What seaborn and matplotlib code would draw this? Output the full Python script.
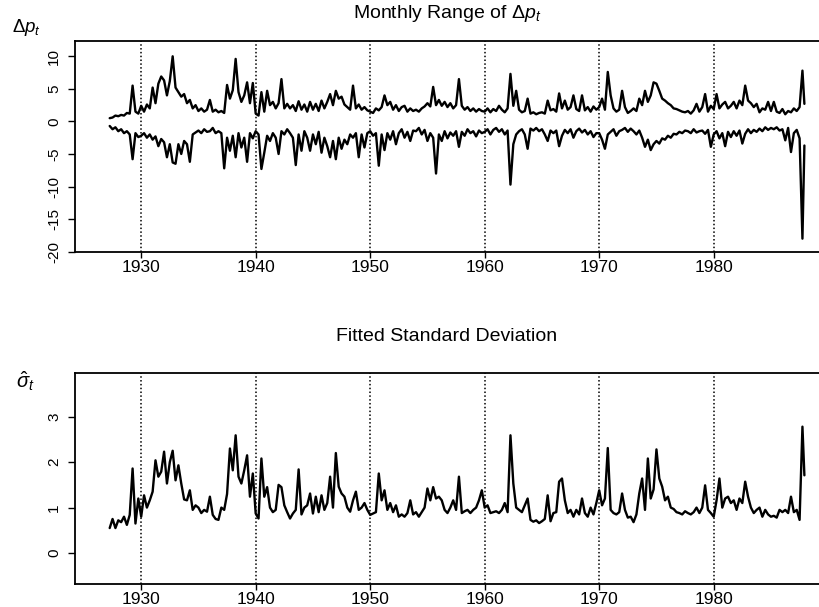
import numpy as np
import pandas as pd
import matplotlib
matplotlib.use("Agg")
import matplotlib.pyplot as plt
import seaborn as sns

# quarterly readings (May 1927 .. Dec 1987)
upper_range = [
    0.5, 0.6, 0.9,                 # 1927
    0.8, 1.0, 0.9, 1.3,            # 1928
    1.2, 5.5, 1.5, 1.2,            # 1929
    2.4, 1.5, 2.6, 2.0,            # 1930
    5.2, 2.8, 5.8, 6.9,
    6.3, 4.0, 6.2, 10.0,
    5.2, 4.5, 3.8, 4.2,
    2.8, 3.3, 2.0, 2.5,
    1.6, 2.0, 1.5, 1.8,            # 1935
    3.3, 1.5, 1.8, 1.4,
    1.6, 1.3, 5.6, 3.5,
    4.8, 9.6, 4.5, 3.0,
    4.0, 6.0, 2.8, 5.9,
    1.2, 0.9, 4.5, 1.5,            # 1940
    4.7, 2.5, 3.0, 2.0,
    2.8, 6.5, 2.0, 2.7,
    2.0, 2.5, 1.6, 3.1,
    1.8, 2.6, 1.5, 3.0,
    1.8, 2.7, 1.6, 3.2,            # 1945
    2.0, 3.0, 4.2, 2.5,
    4.7, 3.5, 3.8, 2.6,
    2.2, 1.8, 5.5, 2.0,
    2.6, 1.8, 2.2, 1.7,
    1.5, 1.3, 2.0, 1.7,            # 1950
    2.2, 4.0, 2.5, 3.0,
    1.8, 2.5, 1.6, 2.2,
    2.4, 1.5, 2.0, 1.6,
    1.8, 1.5, 2.0, 2.3,
    2.8, 2.3, 5.3, 2.5,            # 1955
    3.3, 2.4, 3.0, 2.2,
    2.8, 2.0, 2.5, 6.5,
    2.4, 1.8, 2.2, 1.6,
    2.0, 1.5, 1.9, 1.6,
    1.5, 2.0, 1.4, 1.9,            # 1960
    1.6, 2.4, 1.8, 1.4,
    2.0, 7.3, 2.4, 4.7,
    1.8, 1.4, 1.6, 3.5,
    1.2, 1.4, 1.1, 1.3,
    1.4, 1.2, 3.2, 1.7,            # 1965
    1.9, 1.5, 4.3, 2.0,
    3.2, 1.8, 2.2, 4.0,
    1.9, 1.6, 4.0, 1.7,
    2.2, 1.5, 2.3, 1.8,
    2.2, 3.5, 1.8, 7.6,            # 1970
    4.0, 2.0, 1.5, 1.8,
    4.7, 2.2, 1.3, 1.6,
    2.0, 1.6, 3.5, 2.5,
    4.7, 3.0, 4.0, 6.0,
    5.8, 4.7, 3.5, 3.2,            # 1975
    2.8, 2.5, 2.0, 1.9,
    1.7, 1.5, 1.4, 1.6,
    1.2, 1.7, 2.7, 1.5,
    2.2, 4.2, 1.5, 2.4,
    1.9, 4.2, 2.0, 2.6,            # 1980
    3.0, 2.0, 2.4, 3.0,
    2.0, 3.2, 2.5, 5.5,
    3.2, 2.8, 2.2, 2.7,
    1.4, 2.0, 1.8, 3.0,
    1.6, 3.0, 1.5, 1.3,            # 1985
    1.9, 1.1, 1.6, 1.4,
    2.0, 1.6, 2.2, 7.8, 2.7,       # 1987
]

lower_range = [
    -0.7, -1.2, -0.9,
    -1.5, -1.2, -1.8, -1.5,
    -2.0, -5.8, -1.8, -2.4,
    -2.2, -1.8, -2.5, -2.0,        # 1930
    -2.8, -2.3, -3.8, -2.7,
    -3.2, -5.5, -3.5, -6.3,
    -6.5, -3.5, -5.0, -3.0,
    -3.5, -6.2, -2.0, -1.7,
    -1.4, -1.8, -1.2, -1.6,        # 1935
    -1.5, -1.0, -1.8, -1.5,
    -1.8, -7.2, -2.5, -4.5,
    -2.2, -5.5, -1.8, -4.0,
    -2.5, -6.2, -1.8, -2.6,
    -1.5, -2.0, -7.3, -4.8,        # 1940
    -2.2, -3.0, -1.8, -2.5,
    -5.0, -1.5, -2.0, -1.2,
    -1.8, -2.5, -6.7, -2.0,
    -4.5, -1.5, -2.5, -4.5,
    -2.0, -3.5, -1.6, -4.8,        # 1945
    -2.5, -3.8, -5.5, -3.0,
    -5.8, -2.5, -4.2, -2.8,
    -3.5, -2.0, -2.5, -1.8,
    -5.5, -2.0, -4.0, -1.8,
    -1.5, -2.2, -1.8, -6.8,        # 1950
    -2.0, -4.4, -1.8, -2.8,
    -1.5, -3.5, -1.8, -1.2,
    -2.5, -1.6, -3.0, -1.4,
    -1.5, -1.0, -2.0, -1.3,
    -3.0, -1.8, -2.5, -8.0,        # 1955
    -2.0, -3.0, -1.5, -2.6,
    -1.7, -2.2, -1.5, -3.9,
    -1.6, -2.2, -1.2, -1.8,
    -1.5, -2.3, -1.4, -1.8,
    -1.6, -1.2, -2.0, -1.3,        # 1960
    -1.0, -1.6, -1.2, -2.0,
    -1.4, -9.7, -3.5, -2.0,
    -1.5, -1.2, -2.0, -4.2,
    -1.1, -1.4, -1.0, -1.5,
    -1.2, -2.0, -3.0, -1.4,        # 1965
    -1.8, -1.4, -3.8, -2.2,
    -1.3, -1.8, -1.2, -2.5,
    -1.5, -1.1, -1.7, -1.3,
    -2.0, -1.5, -2.4, -1.8,
    -1.8, -2.8, -4.2, -2.0,        # 1970
    -1.6, -1.2, -2.2, -1.5,
    -1.3, -1.0, -1.6, -1.1,
    -1.5, -2.0, -1.4, -2.5,
    -3.9, -2.8, -4.4, -3.5,
    -3.0, -3.4, -2.6, -2.8,        # 1975
    -2.2, -2.5, -1.9, -2.0,
    -1.6, -1.8, -1.4, -1.5,
    -1.8, -1.2, -1.7, -1.5,
    -1.4, -1.9, -1.3, -3.9,
    -2.0, -1.5, -2.6, -1.8,        # 1980
    -3.8, -1.6, -2.4, -1.5,
    -2.2, -1.4, -3.4, -1.9,
    -1.2, -1.8, -1.3, -1.6,
    -1.1, -1.5, -0.9, -1.3,
    -1.0, -1.2, -0.9, -1.4,        # 1985
    -1.2, -2.9, -1.0, -4.7,
    -1.8, -1.3, -2.6, -18.0, -3.7,
]

fitted_sd = [
    0.55, 0.75, 0.55,
    0.72, 0.68, 0.80, 0.62,
    0.84, 1.86, 0.65, 1.20,
    0.80, 1.27, 1.00, 1.16,        # 1930
    1.35, 2.04, 1.68, 1.79,
    2.23, 1.53, 2.00, 2.25,
    1.60, 1.93, 1.53, 1.18,
    1.16, 1.38, 0.95, 1.05,
    1.00, 0.88, 0.95, 0.91,        # 1935
    1.24, 0.84, 0.75, 0.73,
    1.00, 0.95, 1.30, 2.30,
    1.82, 2.59, 1.68, 1.53,
    1.82, 2.15, 1.24, 1.75,
    0.87, 0.76, 2.08, 1.24,        # 1940
    1.45, 1.00, 0.90, 0.95,
    1.50, 1.45, 1.05, 0.90,
    0.76, 0.87, 0.95, 1.84,
    0.85, 1.00, 1.05, 1.31,
    0.87, 1.24, 0.90, 1.27,        # 1945
    0.95, 1.10, 1.68, 1.00,
    2.20, 1.46, 1.31, 1.24,
    1.00, 0.91, 1.16, 1.35,
    0.95, 1.00, 1.10, 0.95,
    0.84, 0.87, 0.90, 1.75,        # 1950
    1.16, 1.38, 0.95, 1.10,
    0.90, 1.05, 0.80, 0.85,
    0.80, 0.88, 1.16, 0.85,
    0.90, 0.80, 0.90, 1.00,
    1.42, 1.16, 1.45, 1.20,        # 1955
    1.24, 1.16, 0.95, 0.88,
    1.00, 1.16, 0.95, 1.68,
    0.88, 0.92, 0.95, 0.88,
    0.95, 1.00, 1.16, 1.38,
    1.00, 1.05, 0.88, 0.90,        # 1960
    0.92, 0.88, 0.95, 1.10,
    0.90, 2.59, 1.53, 1.00,
    0.95, 0.90, 1.05, 1.20,
    0.73, 0.69, 0.72, 0.66,
    0.70, 0.75, 1.27, 0.70,        # 1965
    0.88, 0.90, 1.57, 1.64,
    1.16, 0.88, 0.95, 0.80,
    0.95, 0.85, 1.20, 0.88,
    0.80, 1.00, 0.85, 1.10,
    1.38, 1.05, 1.20, 2.31,        # 1970
    0.95, 0.88, 0.85, 0.90,
    1.31, 0.95, 0.78, 0.80,
    0.68, 0.85, 1.31, 1.64,
    0.95, 2.08, 1.20, 1.40,
    2.28, 1.64, 1.46, 1.16,        # 1975
    1.24, 1.00, 0.97, 0.90,
    0.88, 0.85, 0.92, 0.88,
    0.85, 0.90, 1.00, 0.88,
    1.00, 1.49, 0.95, 0.88,
    0.80, 1.16, 1.64, 1.00,        # 1980
    1.20, 1.24, 1.10, 1.16,
    0.95, 1.20, 1.10, 1.57,
    1.24, 1.00, 0.88, 0.95,
    1.00, 0.80, 0.95, 0.85,
    0.80, 0.82, 0.78, 0.95,        # 1985
    0.90, 0.95, 0.88, 1.24,
    0.90, 0.95, 0.73, 2.78, 1.71,
]

# sampling dates: quarters from 1927.25 to 1987.75, plus the last month of 1987
dates = np.append(np.arange(1927.25, 1987.8, 0.25), 1987.92)
decades = [1930, 1940, 1950, 1960, 1970, 1980]
range_ticks = [-20, -15, -10, -5, 0, 5, 10]
sd_ticks = [0, 1, 2, 3]

df = pd.DataFrame({"year": dates, "upper": upper_range,
                   "lower": lower_range, "sd": fitted_sd})

sns.set_style("ticks")
plt.rcParams["font.family"] = ["Liberation Sans", "DejaVu Sans"]
plt.rcParams["mathtext.fontset"] = "custom"
plt.rcParams["mathtext.rm"] = "Liberation Sans"
plt.rcParams["mathtext.it"] = "Liberation Sans:italic"
plt.rcParams["axes.unicode_minus"] = False
for key in ["text.color", "axes.labelcolor", "xtick.color", "ytick.color", "axes.edgecolor"]:
    plt.rcParams[key] = "black"

W, H = 819, 607
fig = plt.figure(figsize=(W / 100, H / 100), dpi=100)
fig.patch.set_facecolor("white")

def px_axes(left, top, right, bottom):
    return fig.add_axes([left / W, 1 - bottom / H, (right - left) / W, (bottom - top) / H])

ax1 = px_axes(75, 41, 825, 252)
ax2 = px_axes(75, 373, 825, 584)

sns.lineplot(data=df, x="year", y="upper", ax=ax1, color="black", linewidth=1.7)
sns.lineplot(data=df, x="year", y="lower", ax=ax1, color="black", linewidth=1.7)
sns.lineplot(data=df, x="year", y="sd", ax=ax2, color="black", linewidth=1.7)

for ax, ticks, lim in [(ax1, range_ticks, (-20.05, 12.35)), (ax2, sd_ticks, (-0.68, 3.96))]:
    for d in decades:
        ax.axvline(d, color="black", linestyle=(0, (1, 1.5)), linewidth=1.1, zorder=0)
    ax.set_xlim(1924.22, 1989.72)
    ax.set_ylim(*lim)
    ax.set_xticks(decades)
    ax.set_yticks(ticks)
    ax.set_xlabel("")
    ax.set_ylabel("")
    ax.tick_params(axis="x", labelsize=12.5, length=4, width=1, pad=2)
    ax.tick_params(axis="y", labelsize=11, length=5, width=1, pad=5, labelrotation=90)
    for lbl in ax.get_yticklabels():
        lbl.set_va("center")
    for s in ax.spines.values():
        s.set_linewidth(1.3)

fig.text(447 / W, 1 - 14 / H, r"Monthly Range of $\Delta p_t$", ha="center", va="center", fontsize=14)
fig.text(447 / W, 1 - 337 / H, "Fitted Standard Deviation", ha="center", va="center", fontsize=14)
fig.text(27 / W, 1 - 28 / H, r"$\Delta p_t$", ha="center", va="center", fontsize=13.5)
fig.text(25 / W, 1 - 381 / H, r"$\hat{\sigma}_t$", ha="center", va="center", fontsize=14.5)

fig.savefig("out.png", dpi=100)
